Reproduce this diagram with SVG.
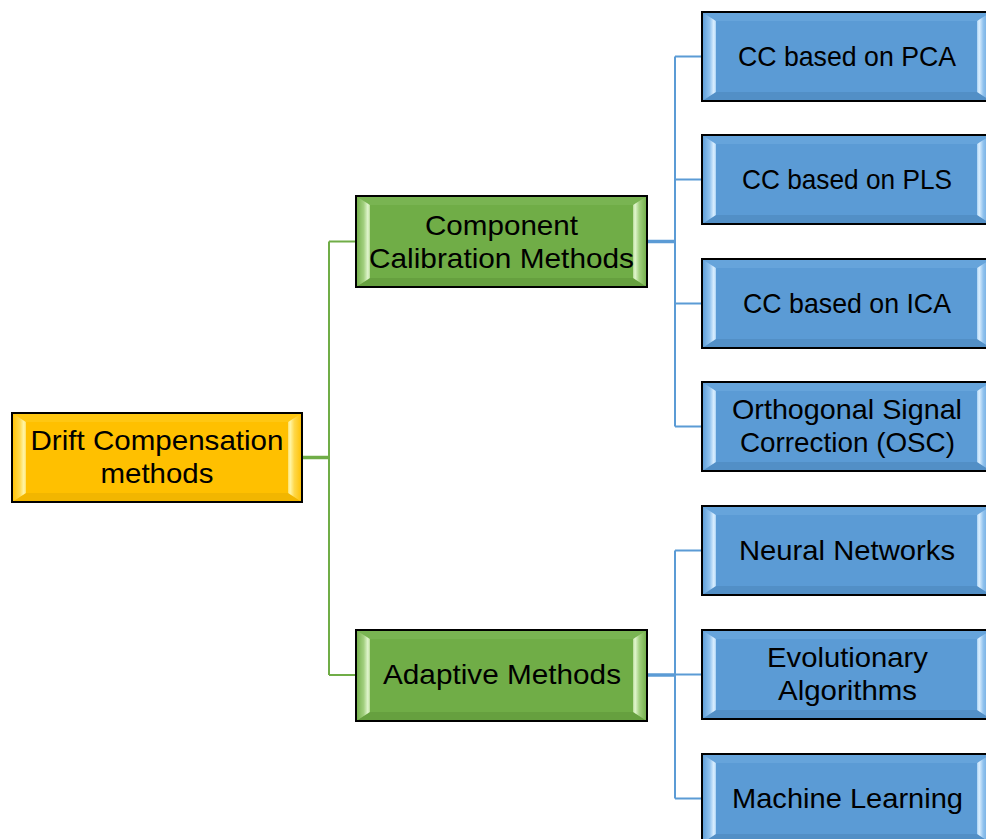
<svg xmlns="http://www.w3.org/2000/svg" xmlns:xlink="http://www.w3.org/1999/xlink" width="986" height="839" viewBox="0 0 986 839">
  <style>
    .lbl { font-family: "Liberation Sans", Arial, sans-serif; font-size: 28px; fill: #000; text-anchor: middle; }
    .edge { stroke: #000; stroke-width: 2; fill: none; }
    .gline { stroke: #70AD47; stroke-width: 2; fill: none; }
    .bline { stroke: #5B9BD5; stroke-width: 2; fill: none; }
    .trunk { stroke-width: 3.5; }
  </style>
  <defs>
    <!-- side bevel highlights: brightest at the inner edge -->
    <linearGradient id="oL" x1="0" y1="0" x2="1" y2="0">
      <stop offset="0" stop-color="#FFC000"/><stop offset="0.55" stop-color="#FFD84A"/><stop offset="0.85" stop-color="#FFF6A8"/><stop offset="1" stop-color="#FFE066"/>
    </linearGradient>
    <linearGradient id="oR" x1="1" y1="0" x2="0" y2="0">
      <stop offset="0" stop-color="#FFC000"/><stop offset="0.55" stop-color="#FFD84A"/><stop offset="0.85" stop-color="#FFF6A8"/><stop offset="1" stop-color="#FFE066"/>
    </linearGradient>
    <linearGradient id="gL" x1="0" y1="0" x2="1" y2="0">
      <stop offset="0" stop-color="#70AD47"/><stop offset="0.55" stop-color="#A2D07F"/><stop offset="0.85" stop-color="#E2F6CF"/><stop offset="1" stop-color="#B5DA96"/>
    </linearGradient>
    <linearGradient id="gR" x1="1" y1="0" x2="0" y2="0">
      <stop offset="0" stop-color="#70AD47"/><stop offset="0.55" stop-color="#A2D07F"/><stop offset="0.85" stop-color="#E2F6CF"/><stop offset="1" stop-color="#B5DA96"/>
    </linearGradient>
    <linearGradient id="bL" x1="0" y1="0" x2="1" y2="0">
      <stop offset="0" stop-color="#5B9BD5"/><stop offset="0.55" stop-color="#90C2EE"/><stop offset="0.85" stop-color="#DDF0FF"/><stop offset="1" stop-color="#A6D0F3"/>
    </linearGradient>
    <linearGradient id="bR" x1="1" y1="0" x2="0" y2="0">
      <stop offset="0" stop-color="#5B9BD5"/><stop offset="0.55" stop-color="#90C2EE"/><stop offset="0.85" stop-color="#DDF0FF"/><stop offset="1" stop-color="#A6D0F3"/>
    </linearGradient>

    <!-- bevelled green box, 291 x 91 -->
    <g id="greenBox">
      <rect x="0" y="0" width="291" height="91" fill="#70AD47"/>
      <polygon points="0,0 291,0 277,9 14,9" fill="#79B452"/>
      <polygon points="0,91 291,91 277,82 14,82" fill="#66A03F"/>
      <polygon points="0,0 14,9 14,82 0,91" fill="url(#gL)"/>
      <polygon points="291,0 277,9 277,82 291,91" fill="url(#gR)"/>
      <rect x="0" y="0" width="291" height="91" class="edge"/>
    </g>
    <!-- bevelled blue box, 289 x 89 -->
    <g id="blueBox">
      <rect x="0" y="0" width="289" height="89" fill="#5B9BD5"/>
      <polygon points="0,0 289,0 275,9 14,9" fill="#66A4DB"/>
      <polygon points="0,89 289,89 275,80 14,80" fill="#528FC6"/>
      <polygon points="0,0 14,9 14,80 0,89" fill="url(#bL)"/>
      <polygon points="289,0 275,9 275,80 289,89" fill="url(#bR)"/>
      <rect x="0" y="0" width="289" height="89" class="edge"/>
    </g>
  </defs>

  <rect width="986" height="839" fill="#fff"/>

  <!-- connectors -->
  <g id="connectors">
    <path class="gline trunk" d="M302,457.5 H329"/>
    <path class="gline" d="M329,241.5 V675 M329,241.5 H356 M329,675 H356"/>
    <path class="bline trunk" d="M647,241.5 H675"/>
    <path class="bline" d="M675,56.5 V426.5 M675,56.5 H702 M675,179.5 H702 M675,303.5 H702 M675,426.5 H702"/>
    <path class="bline trunk" d="M647,675 H675"/>
    <path class="bline" d="M675,550.5 V798.5 M675,550.5 H702 M675,674.5 H702 M675,798.5 H702"/>
  </g>

  <!-- root -->
  <g id="drift">
    <rect x="12" y="413" width="290" height="89" fill="#FFC000"/>
    <polygon points="12,413 302,413 288,422 26,422" fill="#FFC712"/>
    <polygon points="12,502 302,502 288,493 26,493" fill="#F2B600"/>
    <polygon points="12,413 26,422 26,493 12,502" fill="url(#oL)"/>
    <polygon points="302,413 288,422 288,493 302,502" fill="url(#oR)"/>
    <rect x="12" y="413" width="290" height="89" class="edge"/>
    <text class="lbl" x="157" y="450" textLength="253" lengthAdjust="spacingAndGlyphs">Drift Compensation</text>
    <text class="lbl" x="157" y="483" textLength="113" lengthAdjust="spacingAndGlyphs">methods</text>
  </g>

  <!-- second level -->
  <g id="component">
    <use xlink:href="#greenBox" x="356" y="196"/>
    <text class="lbl" x="501.5" y="235" textLength="153" lengthAdjust="spacingAndGlyphs">Component</text>
    <text class="lbl" x="501.5" y="268" textLength="265" lengthAdjust="spacingAndGlyphs">Calibration Methods</text>
  </g>
  <g id="adaptive">
    <use xlink:href="#greenBox" x="356" y="630"/>
    <text class="lbl" x="502" y="684" textLength="238" lengthAdjust="spacingAndGlyphs">Adaptive Methods</text>
  </g>

  <!-- leaves -->
  <g id="pca">
    <use xlink:href="#blueBox" x="702" y="12"/>
    <text class="lbl" x="847" y="66" textLength="218" lengthAdjust="spacingAndGlyphs">CC based on PCA</text>
  </g>
  <g id="pls">
    <use xlink:href="#blueBox" x="702" y="135"/>
    <text class="lbl" x="847" y="189" textLength="210" lengthAdjust="spacingAndGlyphs">CC based on PLS</text>
  </g>
  <g id="ica">
    <use xlink:href="#blueBox" x="702" y="259"/>
    <text class="lbl" x="847" y="313" textLength="208" lengthAdjust="spacingAndGlyphs">CC based on ICA</text>
  </g>
  <g id="osc">
    <use xlink:href="#blueBox" x="702" y="382"/>
    <text class="lbl" x="847" y="419" textLength="230" lengthAdjust="spacingAndGlyphs">Orthogonal Signal</text>
    <text class="lbl" x="847.5" y="452" textLength="215" lengthAdjust="spacingAndGlyphs">Correction (OSC)</text>
  </g>
  <g id="neural">
    <use xlink:href="#blueBox" x="702" y="506"/>
    <text class="lbl" x="847" y="560" textLength="216" lengthAdjust="spacingAndGlyphs">Neural Networks</text>
  </g>
  <g id="evolutionary">
    <use xlink:href="#blueBox" x="702" y="630"/>
    <text class="lbl" x="847.5" y="667" textLength="161" lengthAdjust="spacingAndGlyphs">Evolutionary</text>
    <text class="lbl" x="847.5" y="700" textLength="139" lengthAdjust="spacingAndGlyphs">Algorithms</text>
  </g>
  <g id="ml">
    <use xlink:href="#blueBox" x="702" y="754"/>
    <text class="lbl" x="847.5" y="808" textLength="231" lengthAdjust="spacingAndGlyphs">Machine Learning</text>
  </g>
</svg>
